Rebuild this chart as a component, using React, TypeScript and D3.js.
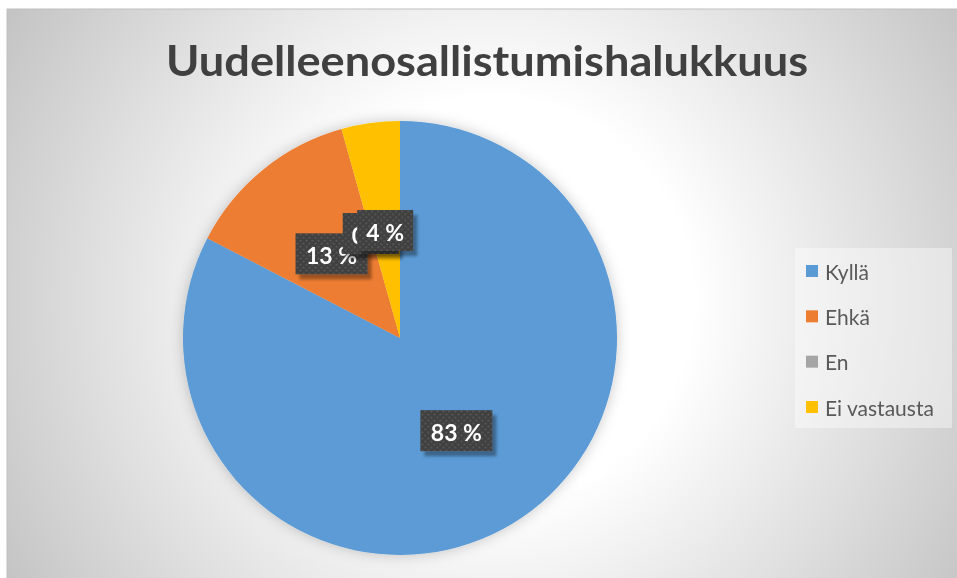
import * as d3 from 'd3';
import React from 'react';

const W = 957;
const H = 578;

const categories = ['Kyllä', 'Ehkä', 'En', 'Ei vastausta'];
const counts = [19, 3, 0, 1];
const labels = ['83 %', '13 %', '0 %', '4 %'];
const colors = ['#5B9BD5', '#ED7D31', '#A5A5A5', '#FFC000'];
const title = 'Uudelleenosallistumishalukkuus';

const cx = 400, cy = 338, radius = 217;

function App() {
    const color = d3.scaleOrdinal<string, string>().domain(categories).range(colors);
    const pie = d3.pie<number>().sort(null).value(d => d);
    const arcs = pie(counts);
    const arc = d3.arc<d3.PieArcDatum<number>>().innerRadius(0).outerRadius(radius);

    const legendY = d3.scalePoint<string>().domain(categories).range([271, 407]);

    return (
        <svg width={W} height={H} style={{ position: 'fixed', left: 0, top: 0, display: 'block' }}
            fontFamily="Lato, 'Open Sans', sans-serif">
            <defs>
                <radialGradient id="bg" gradientUnits="userSpaceOnUse" cx={490} cy={300} r={560}>
                    <stop offset="0.36" stopColor="#ffffff" />
                    <stop offset="1" stopColor="#c4c4c4" />
                </radialGradient>
                <pattern id="dots" width="6" height="6" patternUnits="userSpaceOnUse">
                    <rect width="6" height="6" fill="#404040" />
                    <rect x="1" y="1" width="2" height="1.5" fill="#5a5a5a" />
                    <rect x="4" y="4" width="2" height="1.5" fill="#5a5a5a" />
                </pattern>
                <filter id="pieShadow" x="-20%" y="-20%" width="140%" height="140%">
                    <feDropShadow dx="0" dy="0" stdDeviation="7" floodColor="#000" floodOpacity="0.22" />
                </filter>
                <filter id="boxShadow" x="-30%" y="-30%" width="160%" height="160%">
                    <feDropShadow dx="4" dy="5" stdDeviation="1.5" floodColor="#000" floodOpacity="0.35" />
                </filter>
            </defs>

            <rect x={7} y={9} width={W} height={H} fill="url(#bg)" stroke="#bfbfbf" strokeWidth={1} />

            <text x={487} y={76} textAnchor="middle" fontSize={42} fontWeight="bold" fill="#404040"
                textLength={642} lengthAdjust="spacingAndGlyphs">{title}</text>

            <g transform={`translate(${cx},${cy})`}>
                <g filter="url(#pieShadow)">
                    {arcs.map((a, i) => (
                        <path key={i} d={arc(a) || ''} fill={color(categories[i])} />
                    ))}
                </g>
                {arcs.map((a, i) => {
                    const [lx, ly] = arc.centroid(a);
                    const bw = labels[i].length * 16 + 8;
                    const bh = 41;
                    return (
                        <g key={'l' + i} transform={`translate(${lx},${ly})`}>
                            <rect x={-bw / 2} y={-bh / 2} width={bw} height={bh} fill="url(#dots)" filter="url(#boxShadow)" />
                            <text x={0} y={1} textAnchor="middle" dominantBaseline="central" fontSize={23}
                                fontWeight="bold" fill="#ffffff">{labels[i]}</text>
                        </g>
                    );
                })}
            </g>

            <rect x={795} y={248} width={157} height={180} fill="#ffffff" fillOpacity={0.4} />
            {categories.map(c => (
                <g key={c} transform={`translate(806,${legendY(c)})`}>
                    <rect x={0} y={-6} width={12} height={12} fill={color(c)} />
                    <text x={19} y={0} dominantBaseline="central" fontSize={21} fill="#595959">{c}</text>
                </g>
            ))}
        </svg>
    );
}

export default App;
